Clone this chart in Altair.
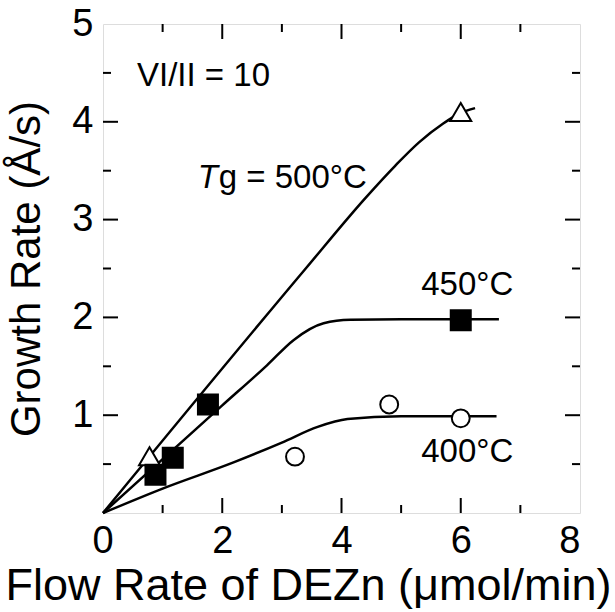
import altair as alt
import pandas as pd

# Measured growth rates (Å/s) vs DEZn flow rate (µmol/min), VI/II = 10
t500_flow = [0.78, 6.0]
t500_rate = [0.58, 4.10]
t450_flow = [0.88, 1.17, 1.76, 6.0]
t450_rate = [0.39, 0.565, 1.11, 1.97]
t400_flow = [3.22, 4.8, 6.0]
t400_rate = [0.576, 1.11, 0.968]

# Guide-to-the-eye curves
c500_flow = [0, 3.4, 4.4, 4.9, 5.3, 5.7, 6.0, 6.24]
c500_rate = [0, 2.5, 3.22, 3.55, 3.79, 3.98, 4.09, 4.14]
c450_flow = [0, 2.0, 2.75, 3.2, 3.7, 4.15, 5.0, 6.64]
c450_rate = [0, 1.1, 1.51, 1.77, 1.94, 1.975, 1.98, 1.98]
c400_flow = [0, 1.0, 2.2, 3.0, 3.6, 4.1, 5.0, 6.6]
c400_rate = [0, 0.25, 0.52, 0.72, 0.88, 0.96, 0.99, 0.99]

x_labels = [0, 2, 4, 6, 8]
y_labels = [1, 2, 3, 4, 5]
x_major = [2, 4, 6]
x_minor = [1, 3, 5, 7]
y_major = [1, 2, 3, 4]
y_minor = [0.5, 1.5, 2.5, 3.5, 4.5]

W, H = 477, 489
FONT = "Liberation Sans"
MAJ, MIN = 15, 8

xs = alt.Scale(domain=[0, 8], nice=False, zero=False)
ys = alt.Scale(domain=[0, 5], nice=False, zero=False)

x_axis = alt.Axis(values=x_labels, format="d", ticks=False, tickSize=0, grid=False, domain=False,
                  labelFontSize=38, labelFont=FONT, labelColor="black", labelPadding=9,
                  labelOffset={"condition": {"test": "datum.value == 0", "value": -11}, "value": 0},
                  title="Flow Rate of DEZn (μmol/min)", titleFont=FONT, titleFontSize=45,
                  titleFontWeight="normal", titleColor="black", titleBaseline="top",
                  titleY=50, titleX=205)
y_axis = alt.Axis(values=y_labels, format="d", ticks=False, tickSize=0, grid=False, domain=False,
                  labelFontSize=38, labelFont=FONT, labelColor="black", labelPadding=10,
                  title="Growth Rate (Å/s)", titleFont=FONT, titleFontSize=42,
                  titleFontWeight="normal", titleColor="black", titleBaseline="bottom",
                  titleX=-55, titleY=H / 2)


def curve(fx, fy):
    df = pd.DataFrame({"x": fx, "y": fy})
    return alt.Chart(df).mark_line(color="black", strokeWidth=2.5, interpolate="monotone").encode(
        x=alt.X("x:Q", scale=xs, axis=x_axis), y=alt.Y("y:Q", scale=ys, axis=y_axis))


def points(fx, fy, shape, size, fill):
    df = pd.DataFrame({"x": fx, "y": fy})
    return alt.Chart(df).mark_point(shape=shape, size=size, filled=True, fill=fill, stroke="black",
                                    strokeWidth=2, opacity=1).encode(
        x=alt.X("x:Q", scale=xs), y=alt.Y("y:Q", scale=ys))


def ticks_x(vals, length):
    df = pd.DataFrame({"v": vals})
    base = alt.Chart(df).mark_rule(color="black", strokeWidth=2)
    bottom = base.encode(x=alt.X("v:Q", scale=xs), y=alt.value(H), y2=alt.value(H - length))
    top = base.encode(x=alt.X("v:Q", scale=xs), y=alt.value(0), y2=alt.value(length))
    return [bottom, top]


def ticks_y(vals, length):
    df = pd.DataFrame({"v": vals})
    base = alt.Chart(df).mark_rule(color="black", strokeWidth=2)
    left = base.encode(y=alt.Y("v:Q", scale=ys), x=alt.value(0), x2=alt.value(length))
    right = base.encode(y=alt.Y("v:Q", scale=ys), x=alt.value(W), x2=alt.value(W - length))
    return [left, right]


def label(text, x, y, align="left", style="normal", dx=0, size=33):
    df = pd.DataFrame({"x": [x], "y": [y], "t": [text]})
    return alt.Chart(df).mark_text(align=align, baseline="middle", font=FONT, fontSize=size,
                                   fontStyle=style, color="black", dx=dx).encode(
        x=alt.X("x:Q", scale=xs), y=alt.Y("y:Q", scale=ys), text="t:N")


layers = [
    curve(c500_flow, c500_rate),
    curve(c450_flow, c450_rate),
    curve(c400_flow, c400_rate),
    points(t500_flow, t500_rate, "triangle-up", 440, "white"),
    points(t450_flow, t450_rate, "square", 400, "black"),
    points(t400_flow, t400_rate, "circle", 320, "white"),
]
layers += ticks_x(x_major, MAJ) + ticks_x(x_minor, MIN)
layers += ticks_y(y_major, MAJ) + ticks_y(y_minor, MIN)
layers += [
    label("VI/II = 10", 0.57, 4.47),
    label("T", 1.59, 3.43, style="italic"),
    label("g = 500°C", 1.59, 3.43, dx=21),
    label("450°C", 6.11, 2.33, align="center"),
    label("400°C", 6.11, 0.62, align="center"),
]

chart = alt.layer(*layers).properties(
    width=W, height=H,
    autosize=alt.AutoSizeParams(type="none"),
    padding={"left": 103, "top": 24, "right": 35, "bottom": 99},
).configure_view(stroke="black", strokeWidth=2.5).configure(background="white")

chart.save("out.html", embed_options={"renderer": "svg", "actions": False})
